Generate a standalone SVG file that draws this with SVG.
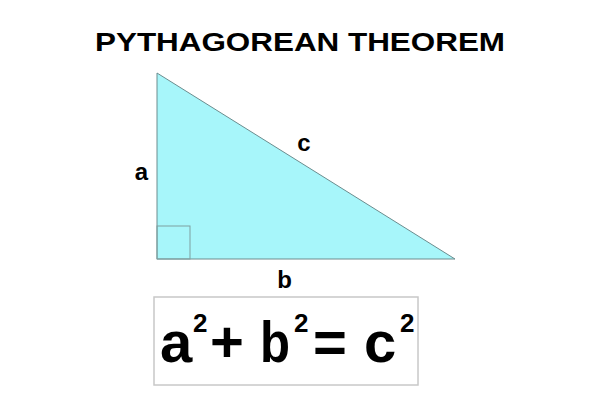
<svg xmlns="http://www.w3.org/2000/svg" width="600" height="400" viewBox="0 0 600 400">
<style>
text{font-family:"Liberation Sans",Arial,sans-serif;font-weight:bold;fill:#000}
.lbl{font-size:24px;text-anchor:middle}
.big{font-size:58px}
.sup{font-size:26px}
</style>
<rect width="600" height="400" fill="#fff"/>
<text x="300" y="51" font-size="26" text-anchor="middle" textLength="410" lengthAdjust="spacingAndGlyphs">PYTHAGOREAN THEOREM</text>
<g id="triangle">
<polygon points="157,73 157,259 455,259" fill="#A7F6FA" stroke="#6c8c8e" stroke-width="1"/>
<rect x="157" y="226" width="33" height="33" fill="none" stroke="#7f9fa0" stroke-width="1"/>
</g>
<g id="labels">
<text class="lbl" x="141.5" y="180">a</text>
<text class="lbl" x="304" y="151">c</text>
<text class="lbl" x="284.5" y="288">b</text>
</g>
<g id="formula">
<rect x="154" y="297" width="264" height="88" fill="#fff" stroke="#c8c8c8" stroke-width="1.5"/>
<text class="big" x="160" y="362">a</text>
<text class="sup" x="193" y="332">2</text>
<text class="big" x="227" y="362" text-anchor="middle">+</text>
<text class="big" x="260" y="362" textLength="30" lengthAdjust="spacingAndGlyphs">b</text>
<text class="sup" x="294" y="332">2</text>
<text class="big" x="330" y="362" text-anchor="middle">=</text>
<text class="big" x="364" y="362">c</text>
<text class="sup" x="400" y="332">2</text>
</g>
</svg>
